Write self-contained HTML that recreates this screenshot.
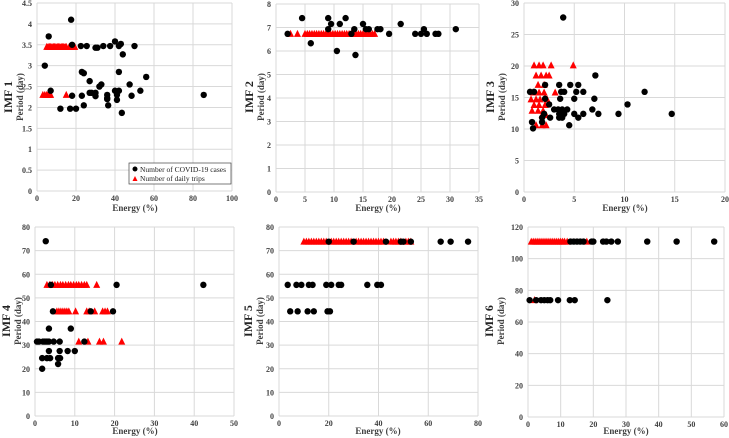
<!DOCTYPE html>
<html><head><meta charset="utf-8">
<style>
html,body{margin:0;padding:0;background:#fff;}
svg{display:block;font-family:"Liberation Serif",serif;}
</style></head>
<body>
<svg id="chart" width="729" height="438" viewBox="0 0 729 438" xmlns="http://www.w3.org/2000/svg"></svg>
<script>
// ---------- Panel data (energy %, period day) ----------
const p1CasesX=[17.5,6,4,7,18,22.5,25.5,30,31,34,37.5,40,42,43,44,50,23,24,27,33,32,28,27,30,36,36,36,40,42,41,41,42,47.5,48.5,53,56,23,18,30,12,17,20,24,36.5,43.5,85.5];
const p1CasesY=[4.1,3.7,3.0,2.4,3.5,3.47,3.47,3.43,3.43,3.47,3.47,3.58,3.47,3.52,3.27,3.47,2.85,2.82,2.63,2.55,2.5,2.35,2.35,2.35,2.3,2.23,2.2,2.4,2.4,2.3,2.18,2.85,2.55,2.28,2.4,2.73,2.28,2.28,2.27,1.97,1.97,1.97,2.05,2.05,1.87,2.3];
const p1TripsX=[5,5.7,6.4,7,7.7,8.4,9,9.7,10.4,11,11.7,12.4,13,13.7,14.4,15,16.5,17.2,18,18.7,19.4,3,4,5,5.7,6.4,7,15];
const p1TripsY=[3.45,3.45,3.45,3.45,3.45,3.45,3.45,3.45,3.45,3.45,3.45,3.45,3.45,3.45,3.45,3.45,3.45,3.45,3.45,3.45,3.45,2.3,2.3,2.3,2.3,2.3,2.3,2.3];

const p2CasesX=[2,4.5,6,9,9,9.5,10.5,11,12,13.5,13.7,15,15.5,16,17.5,18,19.5,21.5,24,25,25.5,26,27.5,28,31,13];
const p2CasesY=[6.73,7.4,6.33,7.4,6.93,7.15,6.0,7.15,7.4,6.93,5.83,7.15,6.93,6.93,6.93,6.93,6.73,7.15,6.73,6.73,6.93,6.73,6.73,6.73,6.93,6.73];
const p2TripsX=[2.5,3.7,5,5.4,5.8,6.2,6.6,7,7.4,7.8,8.2,8.6,9,9.4,9.8,10.2,10.6,11,11.4,11.8,12.2,12.6,13,13.4,13.8,14.2,14.6,15,15.4,15.8,16.2,16.6,17];
const p2TripsY=p2TripsX.map(()=>6.73);

const p3CasesX=[3.9,7.1,0.6,1.0,2.1,3.5,4.6,5.4,3.7,4.0,5.2,5.9,12,2.1,3.6,5.0,7.0,10.3,2.5,3.0,3.4,3.8,4.3,6.8,2.0,3.5,4.0,5.0,5.9,7.4,9.4,14.7,1.8,2.6,3.5,3.8,5.4,0.8,0.9,1.8,4.5];
const p3CasesY=[27.7,18.5,15.9,15.9,17,17,17,17,15.9,15.9,15.9,15.9,15.9,14.8,14.8,14.8,14.8,13.9,13.9,13.1,13.1,13.1,13.1,13.1,12.4,12.4,12.4,12.4,12.4,12.4,12.4,12.4,11.8,11.8,11.8,11.8,11.8,11.1,10.1,11.1,10.6];
const p3TripsX=[1.0,1.5,1.9,2.7,4.9,1.2,1.7,2.2,2.5,1.4,2.0,0.9,1.5,2.0,3.1,0.7,1.2,1.6,2.3,1.0,1.5,2.1,0.8,1.4,1.9,1.8,2.2,1.2,1.8,2.2];
const p3TripsY=[20.1,20.1,20.1,20.1,20.1,18.5,18.5,18.5,18.5,17,17,15.8,15.8,15.8,15.8,14.7,14.7,14.7,14.7,13.8,13.8,13.8,12.9,12.9,12.9,12.2,12.2,10.6,10.6,10.6];

const p4CasesX=[2.7,20.5,42.3,4,4.5,14,19.6,3.5,9,0.5,1,2,2.5,3,3.5,4.7,6.2,12.4,3.5,6.2,8.2,10,1.8,3,3.8,5.8,6.3,5.8,1.8];
const p4CasesY=[74,55.5,55.5,55.5,44.3,44.3,44.3,37,37,31.5,31.5,31.5,31.5,31.5,31.5,31.5,31.5,31.5,27.5,27.5,27.5,27.5,24.5,24.5,24.5,24.5,24.5,22,20];
const p4TripsX=[3,3.7,4.4,5,5.7,6.4,7,7.7,8.4,9,9.7,10.4,11,11.7,12.4,13,15.5,5.5,6,6.5,7,7.5,8,8.5,10.2,13,13.6,15,17,17.6,18.2,11,13.3,16.2,17.2,21.8];
const p4TripsY=[55.5,55.5,55.5,55.5,55.5,55.5,55.5,55.5,55.5,55.5,55.5,55.5,55.5,55.5,55.5,55.5,55.5,44.3,44.3,44.3,44.3,44.3,44.3,44.3,44.3,44.3,44.3,44.3,44.3,44.3,44.3,31.5,31.5,31.5,31.5,31.5];

const p5CasesX=[20,30,43,49,50,53,65,69,76,3.5,7,9,12,13.5,19,21,24,25,35.5,39.5,41,4.5,7.5,11.5,14,19.5,20.5];
const p5CasesY=[73.8,73.8,73.8,73.8,73.8,73.8,73.8,73.8,73.8,55.5,55.5,55.5,55.5,55.5,55.5,55.5,55.5,55.5,55.5,55.5,55.5,44.3,44.3,44.3,44.3,44.3,44.3];
const p5TripsX=[10,11,12,13,14,15,16,17,18,19,21,22,23,24,25,26,27,28,29,31,32,33,34,35,36,37,38,39,40,41,42,45,46,47,48,49,51,52,53];
const p5TripsY=p5TripsX.map(()=>73.8);

const p6CasesX=[13,14,15,16,17,19.5,20,23,24,25.5,27.5,36.5,45.5,57,0.5,2.5,4,5,6,6.8,9.2,12.8,14.3,24.3];
const p6CasesY=[110.8,110.8,110.8,110.8,110.8,110.8,110.8,110.8,110.8,110.8,110.8,110.8,110.8,110.8,73.8,73.8,73.8,73.8,73.8,73.8,73.8,73.8,73.8,73.8];
const p6TripsX=[1,1.6,2.2,2.8,3.4,4,4.6,5.2,5.8,6.4,7,7.6,8.2,8.8,9.4,10,10.6,11.2,12,18,2];
const p6TripsY=[110.8,110.8,110.8,110.8,110.8,110.8,110.8,110.8,110.8,110.8,110.8,110.8,110.8,110.8,110.8,110.8,110.8,110.8,110.8,110.8,73.8];

// axis ticks
const p1XTicks=[0,20,40,60,80,100], p1YTicks=[0,0.5,1,1.5,2,2.5,3,3.5,4,4.5];
const p2XTicks=[0,5,10,15,20,25,30,35], p2YTicks=[0,1,2,3,4,5,6,7,8];
const p3XTicks=[0,5,10,15,20], p3YTicks=[0,5,10,15,20,25,30];
const p4XTicks=[0,10,20,30,40,50], p4YTicks=[0,10,20,30,40,50,60,70,80];
const p5XTicks=[0,20,40,60,80], p5YTicks=[0,10,20,30,40,50,60,70,80];
const p6XTicks=[0,10,20,30,40,50,60], p6YTicks=[0,20,40,60,80,100,120];

const NS="http://www.w3.org/2000/svg";
const svg=document.getElementById('chart');
function mk(tag,attrs,parent){const e=document.createElementNS(NS,tag);for(const k in attrs)e.setAttribute(k,attrs[k]);(parent||svg).appendChild(e);return e;}

const panels=[
 {n:1,x0:37,x1:232,y0:191,y1:3,xt:p1XTicks,yt:p1YTicks,cx:p1CasesX,cy:p1CasesY,tx:p1TripsX,ty:p1TripsY,lx:12,ly:97,ex:135,ey:211},
 {n:2,x0:276,x1:479,y0:192,y1:4,xt:p2XTicks,yt:p2YTicks,cx:p2CasesX,cy:p2CasesY,tx:p2TripsX,ty:p2TripsY,lx:253,ly:97,ex:378,ey:211},
 {n:3,x0:524,x1:725,y0:192,y1:3,xt:p3XTicks,yt:p3YTicks,cx:p3CasesX,cy:p3CasesY,tx:p3TripsX,ty:p3TripsY,lx:494,ly:97,ex:625,ey:211},
 {n:4,x0:35,x1:234,y0:416,y1:227,xt:p4XTicks,yt:p4YTicks,cx:p4CasesX,cy:p4CasesY,tx:p4TripsX,ty:p4TripsY,lx:10,ly:321,ex:135,ey:434},
 {n:5,x0:279,x1:478,y0:416,y1:227,xt:p5XTicks,yt:p5YTicks,cx:p5CasesX,cy:p5CasesY,tx:p5TripsX,ty:p5TripsY,lx:252,ly:321,ex:378,ey:434},
 {n:6,x0:528,x1:724,y0:417,y1:227,xt:p6XTicks,yt:p6YTicks,cx:p6CasesX,cy:p6CasesY,tx:p6TripsX,ty:p6TripsY,lx:493,ly:321,ex:626,ey:434}
];

panels.forEach(p=>{
  const g=mk('g',{});
  
  
  const xmin=p.xt[0],xmax=p.xt[p.xt.length-1],ymin=p.yt[0],ymax=p.yt[p.yt.length-1];
  const X=v=>p.x0+(v-xmin)/(xmax-xmin)*(p.x1-p.x0);
  const Y=v=>p.y0-(v-ymin)/(ymax-ymin)*(p.y0-p.y1);
  p.yt.forEach(t=>{
    const l=mk('line',{x1:p.x0,x2:p.x1,y1:Y(t),y2:Y(t),stroke:'#d9d9d9','stroke-width':1},g);
    
    
    const tx=mk('text',{x:p.x0-5,y:Y(t)+3,'text-anchor':'end','font-size':8,'font-weight':'bold',fill:'#404040'},g);
    tx.textContent=t;
    
    
  });
  p.xt.forEach(t=>{
    const l=mk('line',{x1:X(t),x2:X(t),y1:p.y0,y2:p.y1,stroke:'#d9d9d9','stroke-width':1},g);
    
    
    const tx=mk('text',{x:X(t),y:p.y0+10,'text-anchor':'middle','font-size':8,'font-weight':'bold',fill:'#404040'},g);
    tx.textContent=t;
    
    
  });
  const imf=mk('text',{x:p.lx,y:p.ly,transform:`rotate(-90 ${p.lx} ${p.ly})`,'text-anchor':'middle','font-size':12,'font-weight':'bold',fill:'#222'},g);
  imf.textContent='IMF '+p.n;
  
  
  const yl=mk('text',{x:p.lx+11,y:p.ly,transform:`rotate(-90 ${p.lx+11} ${p.ly})`,'text-anchor':'middle','font-size':9,'font-weight':'bold',fill:'#404040'},g);
  yl.textContent='Period (day)';
  
  
  const xl=mk('text',{x:p.ex,y:p.ey,'text-anchor':'middle','font-size':9,'font-weight':'bold',fill:'#404040'},g);
  xl.textContent='Energy (%)';
  
  
  p.tx.forEach((v,i)=>{
    const cx=X(v),cy=Y(p.ty[i]);
    const t=mk('polygon',{points:`${cx-3.5},${cy+3} ${cx+3.5},${cy+3} ${cx},${cy-4}`,fill:'#ff0000'},g);
    
    
  });
  p.cx.forEach((v,i)=>{
    const c=mk('circle',{cx:X(v),cy:Y(p.cy[i]),r:3.2,fill:'#000'},g);
    
    
  });
});

// legend in panel 1
const lg=mk('g',{});


mk('rect',{x:129,y:163,width:102,height:21,fill:'#fff',stroke:'#444','stroke-width':0.7},lg);
const l1=mk('g',{},lg);


mk('circle',{cx:135,cy:169,r:2.5,fill:'#000'},l1);
const t1=mk('text',{x:140,y:172,'font-size':7.5,fill:'#222'},l1);t1.textContent='Number of COVID-19 cases';
const l2=mk('g',{},lg);


mk('polygon',{points:'132.5,181 137.5,181 135,176',fill:'#ff0000'},l2);
const t2=mk('text',{x:140,y:181,'font-size':7.5,fill:'#222'},l2);t2.textContent='Number of daily trips';
</script>
</body></html>
